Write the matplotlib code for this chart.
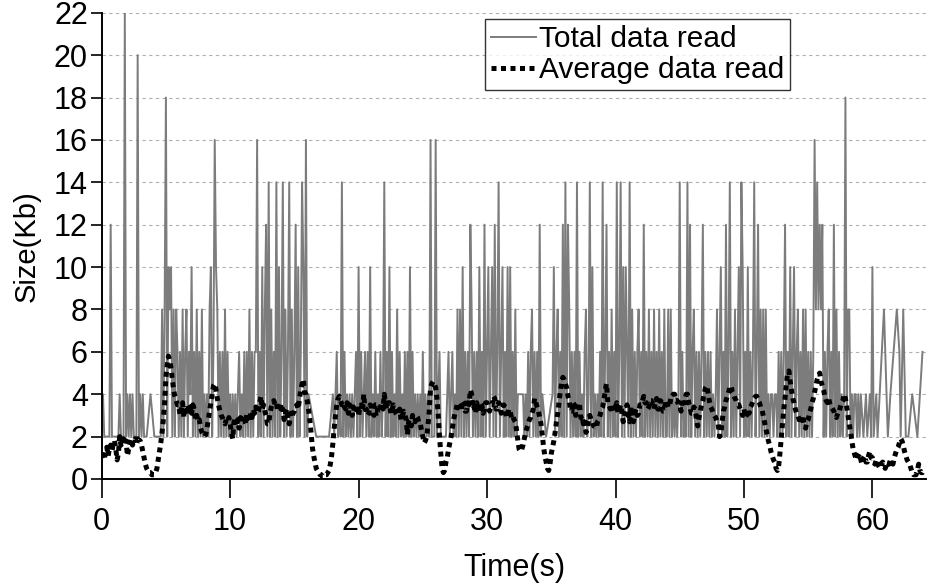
import numpy as np
import matplotlib.pyplot as plt

plt.rcParams['font.family'] = ['Liberation Sans', 'DejaVu Sans']

# Total data read: one char per 0.1 s slot, hex digit = value / 2 (Kb), '.' = no sample
total_step = 0.1
total_rows = [
    "2211111611", "11112111b1", "21212111a1", "2121.1..2.", ".1..1.1414",
    "9154514143", "1314134132", "5131413141", "2121451385", "4131314131",
    "2121212312", "1313141313", "3813151461", "7141317151", "3714137141",
    "3615137518", "12.....1..", ".......1..", "2123121713", "1212121231",
    "5131231315", "1213121312", "7131513121", "4131213131", "5131212121",
    "31212181.1", "81231.1.1.", "3123121414", "1513131641", "3131513161",
    "3513516137", "1351315151", "31412...21", "2131341313", "1612..1...",
    ".251341316", "1716413131", "7131213412", "7151212131", "7136131413",
    "1713715153", "1714131341", "3161314131", "4131413141", "1414121212",
    "7131217161", "3413131361", "3131312124", "1351316137", "1314135175",
    "1315131371", "3614141412", "1221221313", "1361315135", "1341314141",
    "3131384746", "4613134131", "6141312129", "1441212212", "12.1.21.21",
    "51.21....4", "..1.2....4", ".31.4.1.1.", ".2...1...3",
]

# Average data read: tenths of Kb, every 0.1 s (one row per second)
avg_step = 0.1
avg_rows = [
    "12 10 9 13 15 11 14 16 13 17", "18 14 9 12 20 16 17 19 16 18",
    "11 14 17 19 16 18 19 17 19 18", "18 16 13 10 7 5 4 3 3 2",
    "2 2 3 5 9 13 17 22 28 36", "48 54 58 56 52 47 42 39 37 35",
    "35 30 33 36 29 32 30 35 31 34", "31 35 33 28 30 27 28 24 22 21",
    "20 21 24 28 32 36 40 44 45 42", "38 35 32 30 29 27 26 28 27 29",
    "26 22 19 27 29 25 28 24 29 27", "27 30 26 31 28 27 31 29 33 31",
    "34 31 32 36 39 33 35 32 30 26", "26 31 34 36 37 35 36 32 33 36",
    "31 33 28 31 33 29 26 31 29 31", "32 34 35 33 38 42 45 47 41 40",
    "37 33 28 22 15 11 8 5 4 3", "2 2 1 1 2 2 3 4 7 11",
    "17 24 30 35 38 39 37 35 36 34", "33 36 31 35 34 30 34 31 32 35",
    "30 34 35 32 40 33 33 30 31 35", "34 31 30 35 35 31 31 34 36 33",
    "40 35 33 36 36 31 32 35 34 31", "30 32 33 28 29 32 31 28 21 27",
    "28 25 30 28 27 30 29 26 26 23", "20 17 18 20 25 32 43 45 46 45",
    "43 38 30 20 12 5 3 4 8 10", "14 17 20 24 28 31 33 36 35 32",
    "33 37 36 32 32 36 35 42 40 33", "34 31 36 33 32 36 35 31 33 36",
    "36 33 32 35 35 39 38 33 33 36", "35 31 32 35 34 29 30 33 32 29",
    "30 28 27 23 18 14 13 14 16 19", "22 24 26 28 29 31 33 38 36 34",
    "32 29 26 21 15 11 8 5 4 7", "12 15 18 22 27 31 36 41 45 48",
    "47 45 43 39 37 32 32 36 35 30", "32 36 35 29 30 26 28 22 23 28",
    "30 28 27 25 25 24 27 28 30 33", "34 37 42 45 36 35 33 35 35 32",
    "34 36 31 33 35 31 27 30 32 35", "30 27 34 32 27 31 33 30 31 35",
    "35 37 39 36 36 33 34 37 37 34", "33 36 38 33 33 37 36 32 32 37",
    "37 34 34 38 38 40 40 37 37 35", "35 32 38 36 36 40 40 36 34 31",
    "31 34 33 28 25 29 32 35 37 40", "43 44 41 37 34 33 31 30 29 27",
    "26 20 21 27 32 34 37 39 41 43", "44 41 40 38 37 35 35 33 32 30",
    "33 29 30 33 31 34 35 37 38 39", "39 37 36 34 33 30 27 24 21 18",
    "16 13 11 9 8 5 4 6 12 19", "26 33 38 45 50 51 46 42 38 36",
    "33 31 30 28 26 30 29 25 24 27", "28 31 33 36 38 41 44 47 49 50",
    "46 44 42 39 37 36 38 35 34 33", "32 30 29 31 31 34 36 37 40 38",
    "34 30 26 22 18 14 12 10 9 11", "12 9 7 10 11 8 8 11 13 10",
    "10 8 7 9 9 6 5 7 8 6", "5 7 8 7 9 8 7 10 12 14",
    "15 17 19 18 16 13 11 9 8 7", "5 3 2 2 2 4 7 4 3 3", "4",
]

y_ticks = list(range(0, 23, 2))
x_ticks = [0, 10, 20, 30, 40, 50, 60]


def decode_total(rows, step):
    t, v = [], []
    for i, c in enumerate(''.join(rows)):
        if c == '.':
            continue
        t.append(i * step)
        v.append(int(c, 16) * 2)
    return np.array(t), np.array(v)


def decode_avg(rows, step):
    vals = [int(s) / 10 for r in rows for s in r.split()]
    return np.arange(len(vals)) * step, np.array(vals)


tt, tv = decode_total(total_rows, total_step)
at, av = decode_avg(avg_rows, avg_step)

fig = plt.figure(figsize=(9.27, 5.86), dpi=100)
ax = fig.add_axes([0.1097, 0.1826, 0.8903, 0.7956])

ax.plot(tt, tv, color='#7c7c7c', lw=1.4, label='Total data read', zorder=2)
ax.plot(at, av, color='black', lw=3.6, linestyle=(0, (1, 0.9)),
        label='Average data read', zorder=3)

ax.set_xlim(0, 64.25)
ax.set_ylim(0, 22)
ax.set_yticks(y_ticks)
ax.set_xticks(x_ticks)
ax.yaxis.grid(True, linestyle=(0, (3, 3)), color='#b0b0b0', lw=0.8)
ax.set_axisbelow(True)

for s in ['top', 'right']:
    ax.spines[s].set_visible(False)
for s in ['left', 'bottom']:
    ax.spines[s].set_linewidth(1.4)

ax.tick_params(axis='y', direction='out', length=8, width=1.2, labelsize=22, pad=2)
ax.tick_params(axis='x', direction='out', length=14, width=1.2, labelsize=22, pad=6)

ax.set_xlabel('Time(s)', fontsize=22, labelpad=12)
ax.set_ylabel('Size(Kb)', fontsize=21, labelpad=9)

leg = ax.legend(loc='upper left', bbox_to_anchor=(485 / 927, 1 - 19 / 586),
                bbox_transform=fig.transFigure, fontsize=21.5, frameon=True,
                fancybox=False, edgecolor='black', borderaxespad=0,
                borderpad=0.2, labelspacing=0.1, handlelength=1.5,
                handletextpad=0.1)
leg.get_frame().set_linewidth(1.0)

fig.savefig('out.png', dpi=100)
